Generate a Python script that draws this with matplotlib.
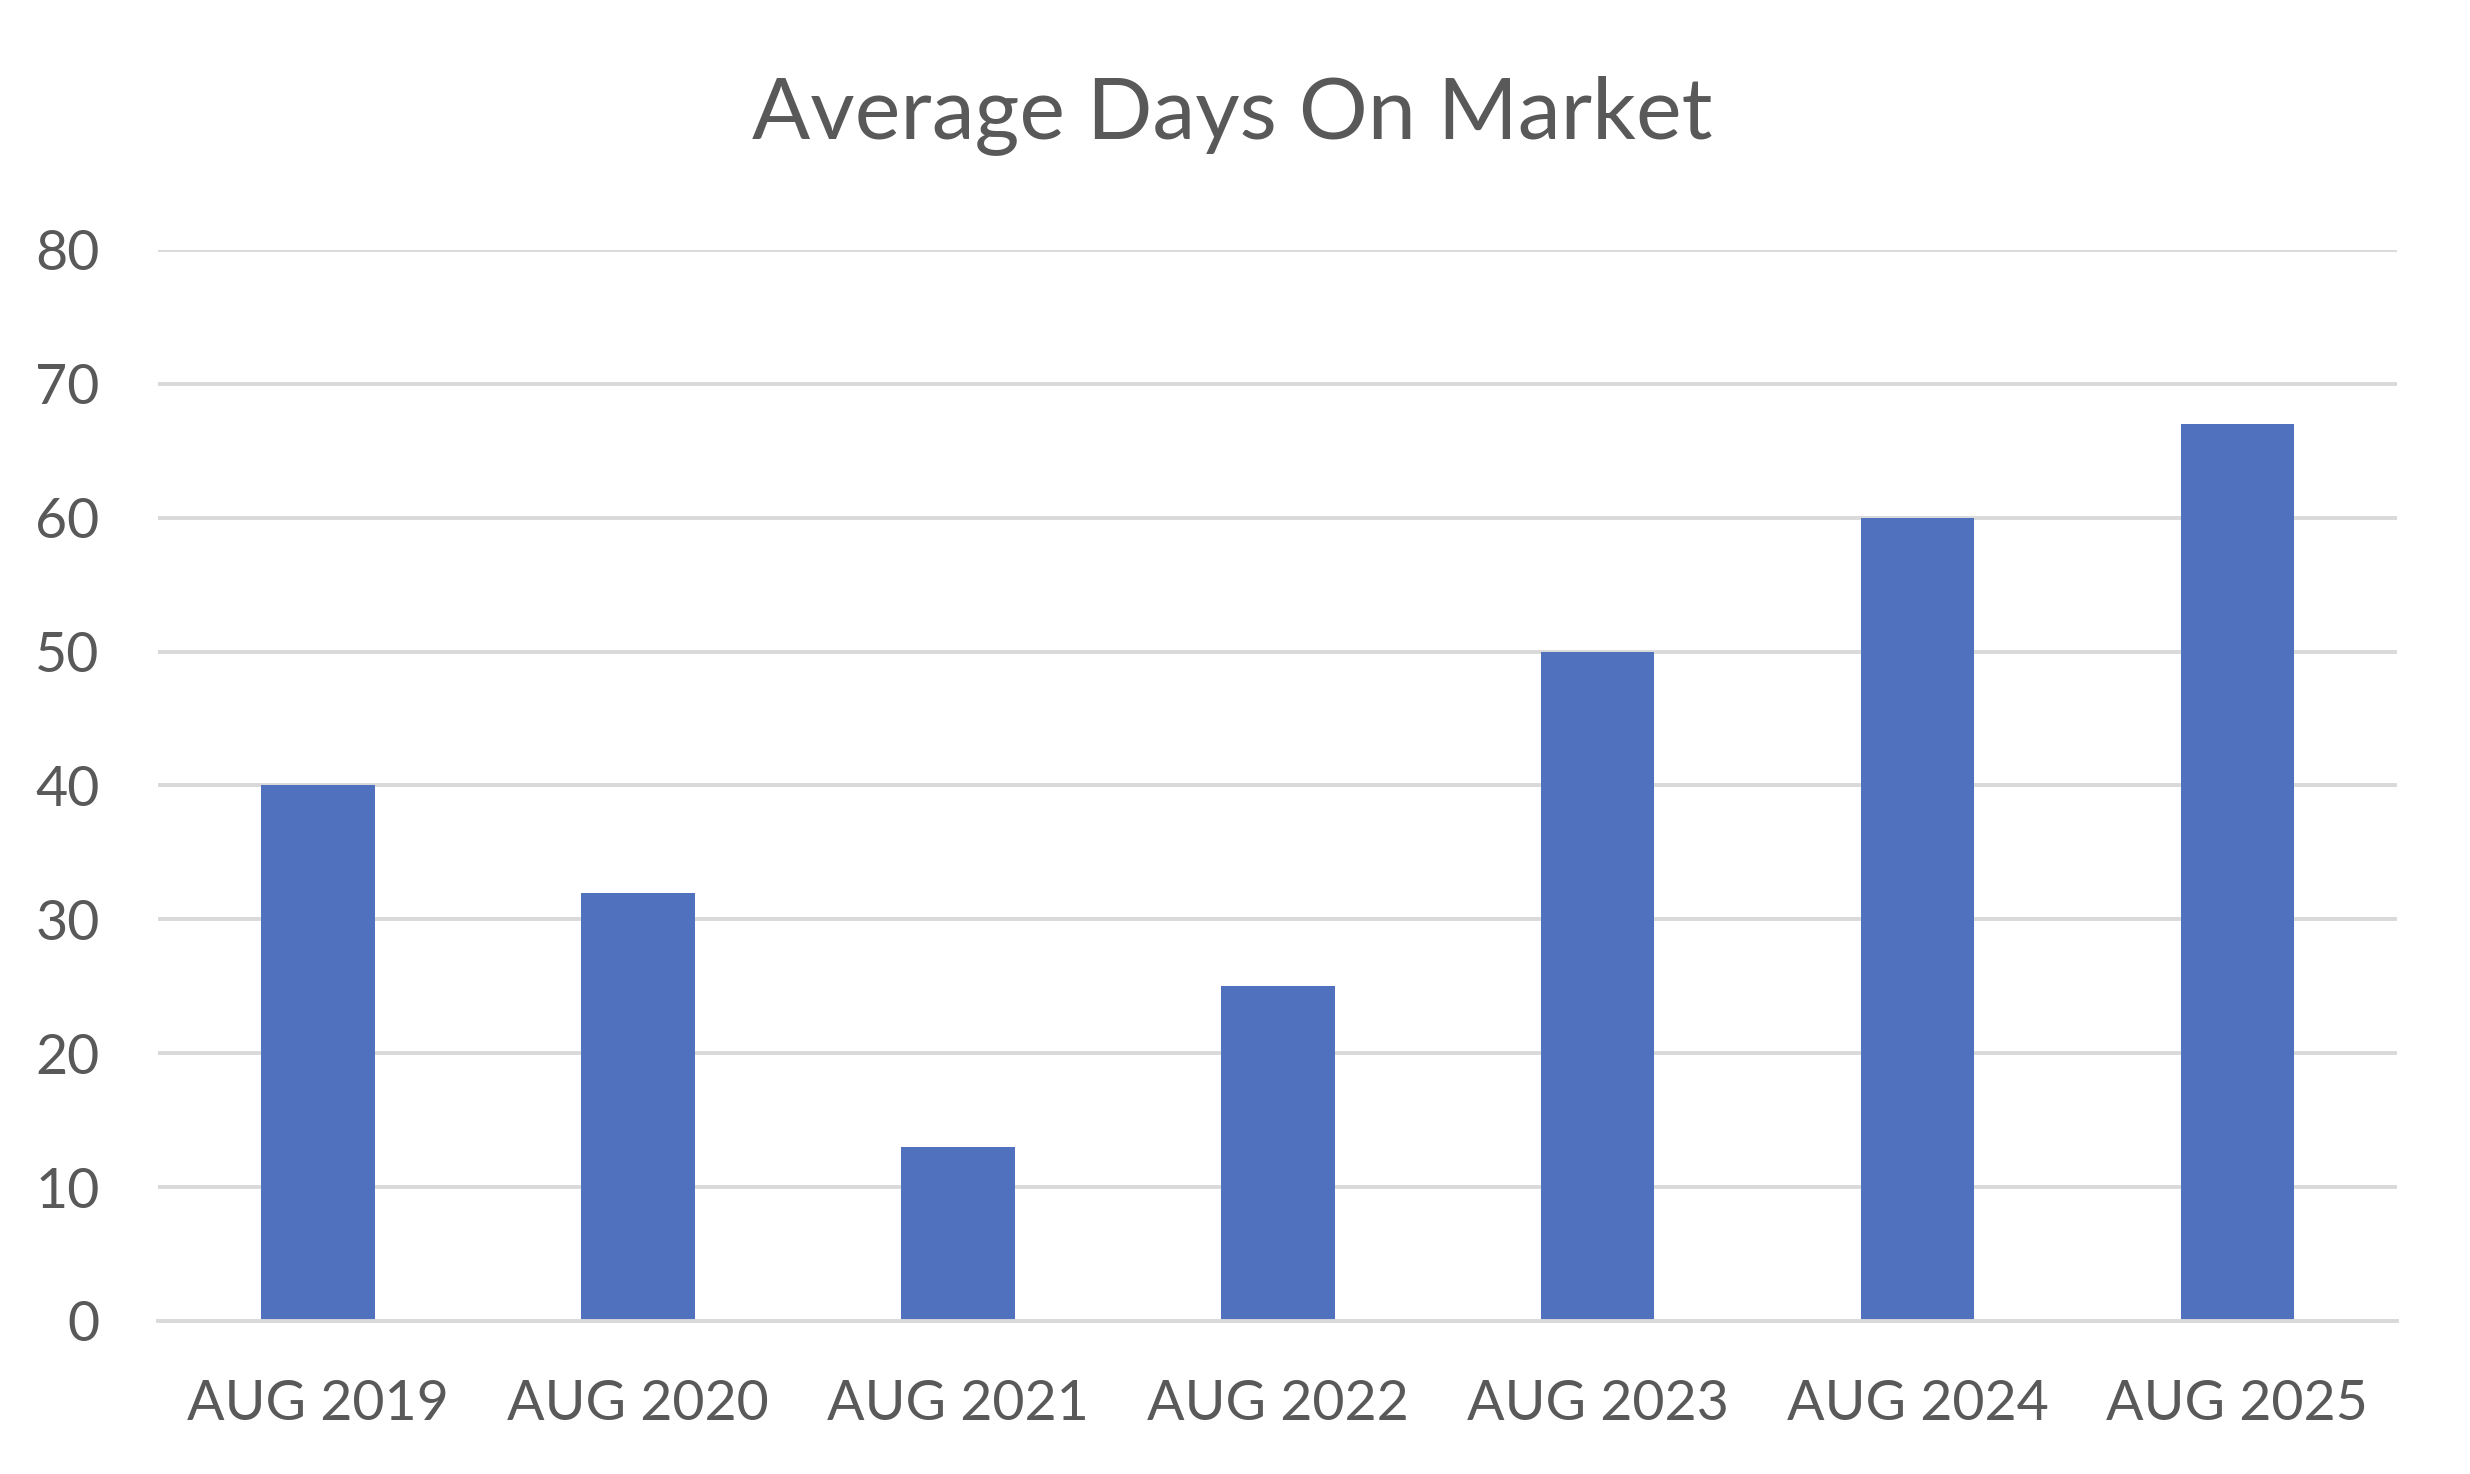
import matplotlib.pyplot as plt

# values
periods = ["AUG 2019", "AUG 2020", "AUG 2021", "AUG 2022", "AUG 2023", "AUG 2024", "AUG 2025"]
avg_days = [40, 32, 13, 25, 50, 60, 67]
y_ticks = [0, 10, 20, 30, 40, 50, 60, 70, 80]

text_color = "#595959"
bar_color = "#5071BE"
grid_color = "#D9D9D9"

plt.rcParams["font.family"] = ["Lato", "DejaVu Sans"]

fig = plt.figure(figsize=(24.7, 14.74), dpi=100)
ax = fig.add_axes([0.064, 0.1038, 0.9066, 0.7266])

x = range(len(periods))
ax.bar(x, avg_days, width=0.355, color=bar_color, zorder=3)

ax.set_xlim(-0.5, len(periods) - 0.5)
ax.set_ylim(0, 80)
ax.set_yticks(y_ticks)
ax.set_xticks(list(x))
ax.set_xticklabels(periods)

ax.grid(axis="y", color=grid_color, linewidth=2.8, zorder=0)
for side in ["top", "right", "left"]:
    ax.spines[side].set_visible(False)
ax.spines["bottom"].set_color(grid_color)
ax.spines["bottom"].set_linewidth(2.8)
ax.spines["bottom"].set_zorder(4)

ax.tick_params(axis="both", length=0, labelcolor=text_color, labelsize=40)
ax.tick_params(axis="x", pad=42)
ax.tick_params(axis="y", pad=42)

fig.suptitle("Average Days On Market", x=0.499, y=0.922, fontsize=62,
             color=text_color, va="center")

fig.savefig("out.png", dpi=100, facecolor="white")
